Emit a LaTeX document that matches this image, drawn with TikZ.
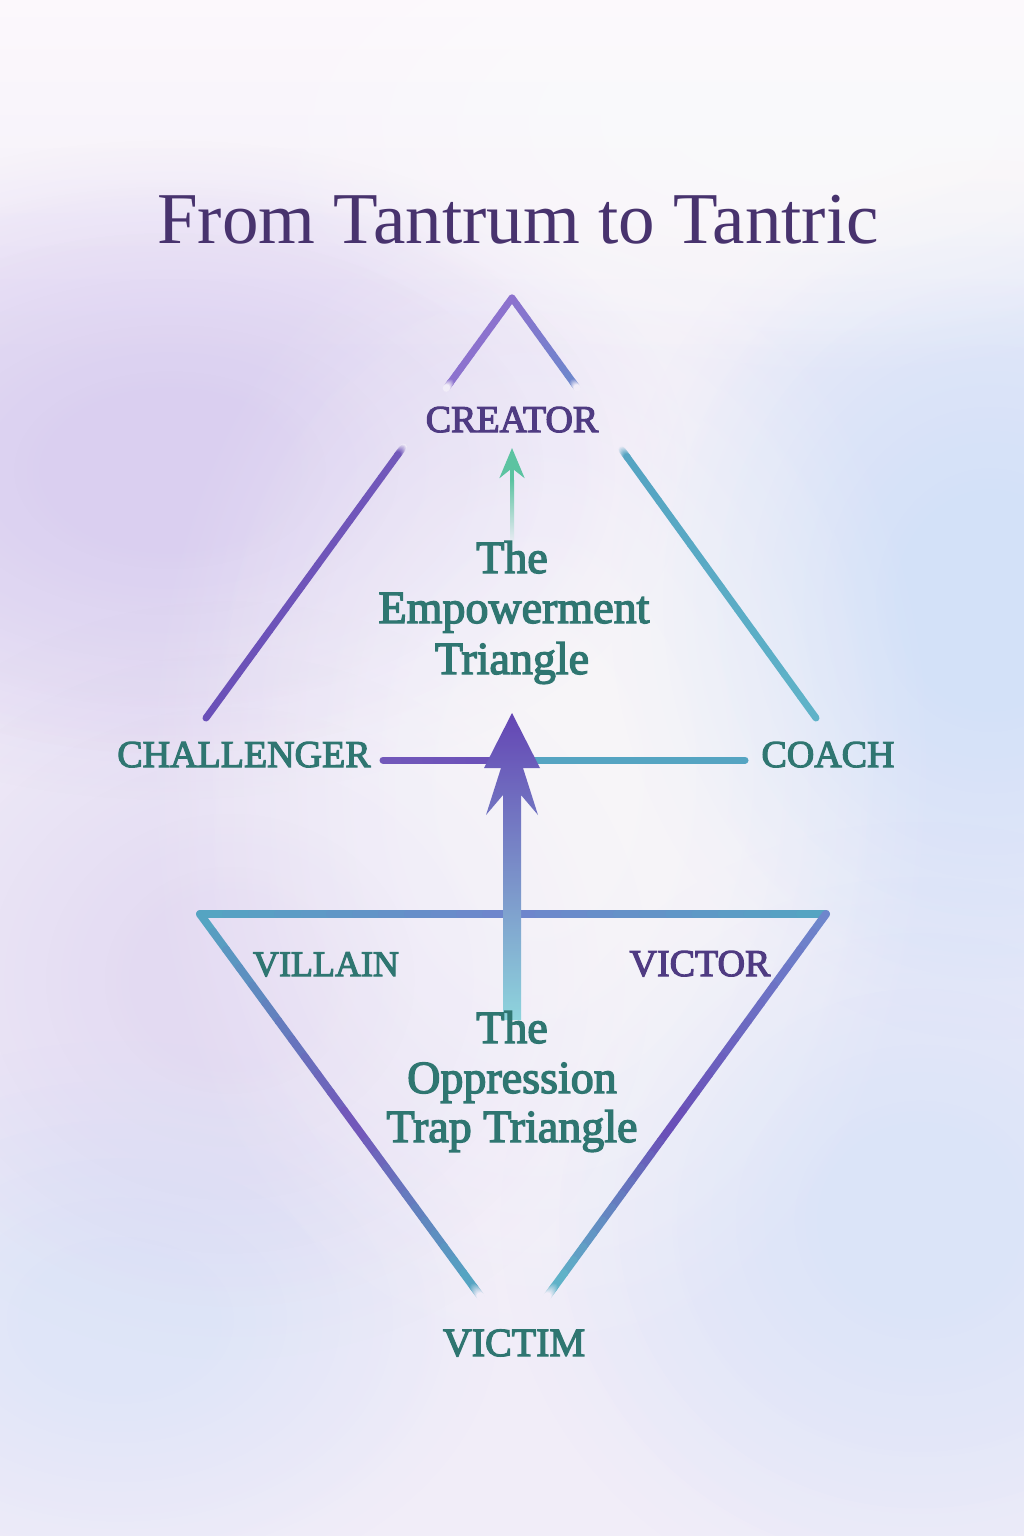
\documentclass[tikz,border=0pt]{standalone}
\usepackage{fontspec}
\setmainfont{Liberation Serif}
\newfontfamily\semib[FakeBold=3]{Liberation Serif}
\usetikzlibrary{arrows.meta,fadings,calc}
\definecolor{bgbase}{HTML}{F1EDF8}
\definecolor{bgtop}{HTML}{FCF8FC}
\definecolor{bglav}{HTML}{D2C3F0}
\definecolor{bgblue}{HTML}{C8DEF8}
\definecolor{titlepurple}{HTML}{48336E}
\definecolor{labpurple}{HTML}{4F3B82}
\definecolor{labteal}{HTML}{2F7671}
\definecolor{lpurA}{HTML}{8C72CE}
\definecolor{lpur}{HTML}{7258BA}
\definecolor{lpurB}{HTML}{6A50B8}
\definecolor{lblue}{HTML}{6E86CC}
\definecolor{lteal}{HTML}{55A4C2}
\definecolor{ltealB}{HTML}{5FB2C8}
\definecolor{arrowgreen}{HTML}{5CC3A1}
\definecolor{arrtop}{HTML}{6445B4}
\definecolor{arrmid}{HTML}{3FB4C8}
\definecolor{arrbot}{HTML}{8ED4DC}
\newcommand{\gradseg}[5]{%
  \foreach \k [evaluate=\k as \p using {int(100*\k/11)}, evaluate=\k as \kn using {int(\k+1)}] in {0,...,11}{%
    \draw[#5, #4!\p!#3] ($(#1)!\k/12!(#2)$) -- ($(#1)!\kn/12!(#2)$);
  }}
% soft background blob: colour, x, y, rx, ry, opacity per layer
\newcommand{\softblob}[6]{%
  \foreach \s in {1.0,0.86,0.72,0.58,0.44,0.3}{%
    \fill[#1, opacity=#6, path fading=circle with fuzzy edge 20 percent] (#2,#3) ellipse [x radius=\s*#4, y radius=\s*#5];
  }}
\tikzset{
  lab/.style={font=\semib\fontsize{38}{42}\selectfont, anchor=base, inner sep=0pt},
  body/.style={font=\semib\fontsize{46}{52}\selectfont, anchor=base, inner sep=0pt, text=labteal},
  tri/.style={line width=7pt, line cap=round},
  tribot/.style={line width=8pt, line cap=round}
}
\begin{document}
\begin{tikzpicture}[x=1pt,y=-1pt]
\useasboundingbox (0,0) rectangle (1024,1536);
% background
\fill[bgbase] (0,0) rectangle (1024,1536);
\shade[top color=bgtop, bottom color=bgbase] (0,0) rectangle (1024,360);
\softblob{bglav}{170}{470}{520}{330}{0.17}
\softblob{bglav}{230}{980}{420}{380}{0.08}
\softblob{bgblue}{990}{600}{380}{440}{0.18}
\softblob{bgblue}{920}{1220}{420}{400}{0.10}
\softblob{bgblue}{120}{1320}{380}{280}{0.08}
\softblob{white}{540}{780}{400}{600}{0.13}
\softblob{white}{800}{120}{560}{260}{0.15}

% coordinates
\coordinate (apex) at (512,298);
\coordinate (tl) at (206,718);
\coordinate (tr) at (816,718);
\coordinate (tlA) at ($(apex)!0.20!(tl)$);
\coordinate (tlAf) at ($(apex)!0.215!(tl)$);
\coordinate (tlBf) at ($(apex)!0.355!(tl)$);
\coordinate (tlB) at ($(apex)!0.375!(tl)$);
\coordinate (trA) at ($(apex)!0.20!(tr)$);
\coordinate (trAf) at ($(apex)!0.215!(tr)$);
\coordinate (trBf) at ($(apex)!0.36!(tr)$);
\coordinate (trB) at ($(apex)!0.38!(tr)$);
\coordinate (hl) at (383,760);
\coordinate (hm) at (512,760);
\coordinate (hr) at (745,760);
\coordinate (bl) at (200,914);
\coordinate (bm) at (512,914);
\coordinate (br) at (826,914);
\coordinate (bv) at (514,1342);
\coordinate (blm) at ($(bl)!0.5!(bv)$);
\coordinate (blE) at ($(bl)!0.87!(bv)$);
\coordinate (blEf) at ($(bl)!0.895!(bv)$);
\coordinate (brm) at ($(br)!0.5!(bv)$);
\coordinate (brE) at ($(br)!0.87!(bv)$);
\coordinate (brEf) at ($(br)!0.895!(bv)$);

% top triangle
\gradseg{apex}{tlA}{lpurA}{lpurA}{tri}
\gradseg{tlA}{tlAf}{lpurA}{bgbase}{tri}
\gradseg{tlBf}{tlB}{bgbase}{lpur}{tri}
\gradseg{tlB}{tl}{lpur}{lpurB}{tri}
\gradseg{apex}{trA}{lpurA}{lblue}{tri}
\gradseg{trA}{trAf}{lblue}{bgbase}{tri}
\gradseg{trBf}{trB}{bgbase}{lteal}{tri}
\gradseg{trB}{tr}{lteal}{ltealB}{tri}

% horizontal line
\gradseg{hl}{hm}{lpur}{lpurB}{tri}
\gradseg{hm}{hr}{lteal}{lteal}{tri}

% bottom triangle
\gradseg{bl}{bm}{lteal}{lblue}{tribot}
\gradseg{bm}{br}{lblue}{lteal}{tribot}
\gradseg{bl}{blm}{lteal}{lpur}{tribot}
\gradseg{blm}{blE}{lpur}{lteal}{tribot}
\gradseg{blE}{blEf}{lteal}{bgbase}{tribot}
\gradseg{br}{brm}{lblue}{lpurB}{tribot}
\gradseg{brm}{brE}{lpurB}{ltealB}{tribot}
\gradseg{brE}{brEf}{ltealB}{bgbase}{tribot}

% big arrow
\shade[top color=arrtop, middle color=arrmid, bottom color=arrbot]
  (512,713) -- (540,768) -- (523,768) -- (538,815) -- (521,795) -- (521,1020)
  -- (503,1020) -- (503,795) -- (486,815) -- (501,768) -- (484,768) -- cycle;

% small arrow
\coordinate (sa1) at (512,480);
\coordinate (sa2) at (512,448);
\shade[top color=arrowgreen, bottom color=bgbase] (510,480) rectangle (514,545);
\draw[arrowgreen, line width=4pt, -{Stealth[length=30pt,width=25pt]}] (sa1) -- (sa2);

% texts
\node[anchor=base, inner sep=0pt, text=titlepurple, font=\fontsize{73}{80}\selectfont] (title) at (518,243) {From Tantrum to Tantric};
\node[lab, text=labpurple] (creator) at (512,432) {CREATOR};
\node[lab, text=labteal] (challenger) at (244,767) {CHALLENGER};
\node[lab, text=labteal] (coach) at (828,767) {COACH};
\node[lab, text=labteal, font=\semib\fontsize{36}{40}\selectfont] (villain) at (326,976) {VILLAIN};
\node[lab, text=labpurple] (victor) at (700,976) {VICTOR};
\node[lab, text=labteal, font=\semib\fontsize{40}{44}\selectfont] (victim) at (514,1356) {VICTIM};
\node[body] (emp1) at (512,573) {The};
\node[body] (emp2) at (514,623) {Empowerment};
\node[body] (emp3) at (512,674) {Triangle};
\node[body] (opp1) at (512,1043) {The};
\node[body] (opp2) at (512,1093) {Oppression};
\node[body] (opp3) at (512,1142) {Trap Triangle};
\end{tikzpicture}
\end{document}
